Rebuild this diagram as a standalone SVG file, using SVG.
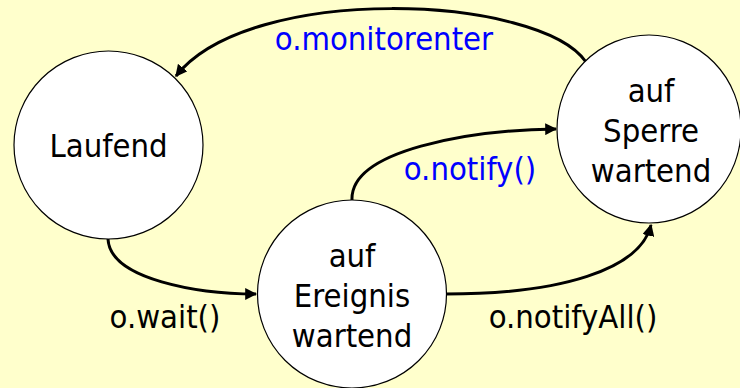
<svg xmlns="http://www.w3.org/2000/svg" width="740" height="388" viewBox="0 0 740 388">
<style>
.node{fill:#fff;stroke:#000;stroke-width:1.2}
.lbl{font-family:"DejaVu Sans Condensed","Liberation Sans",Arial,sans-serif;font-stretch:condensed;font-size:32.5px;fill:#000;text-anchor:middle}
.blue{fill:#0000ff}
.edge{fill:none;stroke:#000;stroke-width:3}
</style>
<defs>
<marker id="arr" viewBox="0 0 10 10" refX="9" refY="5" markerWidth="4" markerHeight="4" orient="auto" markerUnits="strokeWidth">
<path d="M0,0 L10,5 L0,10 z" fill="#000"/>
</marker>
</defs>
<rect width="740" height="388" fill="#ffffcc"/>
<g id="connectors">
<path class="edge" d="M586 62 C540 -5, 250 -18, 176 76" marker-end="url(#arr)"/>
<path class="edge" d="M108 239 C110 280, 200 294, 256 294" marker-end="url(#arr)"/>
<path class="edge" d="M352 200 C350 150, 470 130, 556 129" marker-end="url(#arr)"/>
<path class="edge" d="M446 294 C560 294, 640 270, 651 225" marker-end="url(#arr)"/>
</g>
<g id="node-laufend">
<ellipse class="node" cx="108.5" cy="145" rx="94.5" ry="94"/>
<text class="lbl" x="108.5" y="157">Laufend</text>
</g>
<g id="node-sperre">
<ellipse class="node" cx="649" cy="129" rx="92" ry="94"/>
<text class="lbl" x="651" y="102">auf</text>
<text class="lbl" x="651" y="142">Sperre</text>
<text class="lbl" x="651" y="182">wartend</text>
</g>
<g id="node-ereignis">
<ellipse class="node" cx="352" cy="294" rx="94.5" ry="94"/>
<text class="lbl" x="352" y="267">auf</text>
<text class="lbl" x="352" y="307">Ereignis</text>
<text class="lbl" x="352" y="347">wartend</text>
</g>
<g id="labels">
<text class="lbl blue" x="384" y="50">o.monitorenter</text>
<text class="lbl blue" x="470" y="180">o.notify()</text>
<text class="lbl" x="165" y="328">o.wait()</text>
<text class="lbl" x="573" y="328">o.notifyAll()</text>
</g>
</svg>
